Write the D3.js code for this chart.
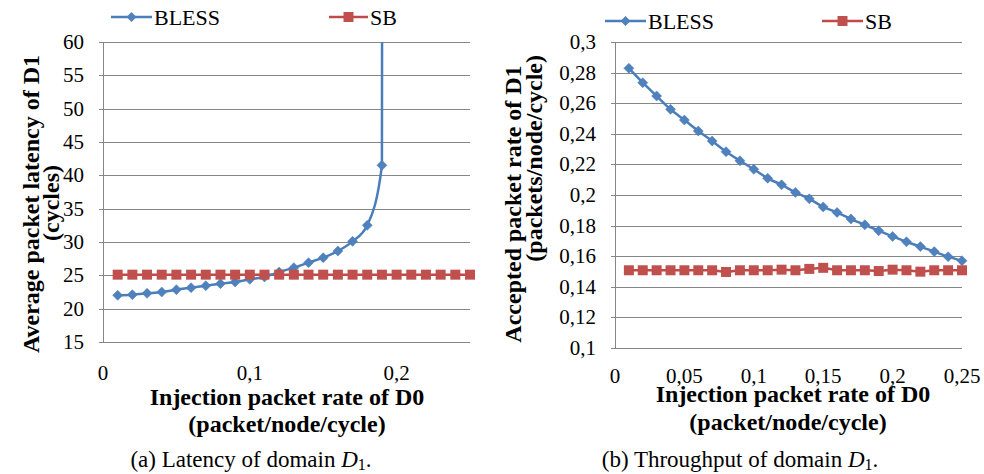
<!DOCTYPE html>
<html>
<head>
<meta charset="utf-8">
<script src="https://cdn.jsdelivr.net/npm/d3@7"></script>
</head>
<body style="margin:0">
<div id="panel"></div>
<script>
// injection rate of D0 (x values)
let injRate = [0.01, 0.02, 0.03, 0.04, 0.05, 0.06, 0.07, 0.08, 0.09, 0.10,
    0.11, 0.12, 0.13, 0.14, 0.15, 0.16, 0.17, 0.18, 0.19, 0.20,
    0.21, 0.22, 0.23, 0.24, 0.25]

// (a) latency of D1; BLESS saturates after 0.19 (last value is off the chart)
let latBless = [22.0, 22.1, 22.3, 22.5, 22.85, 23.15, 23.45, 23.75, 24.0, 24.4,
    24.75, 25.5, 26.15, 26.9, 27.65, 28.65, 30.1, 32.5, 41.5, 2000]
let latSB = [25.1, 25.1, 25.1, 25.1, 25.1, 25.1, 25.1, 25.1, 25.1, 25.1,
    25.1, 25.1, 25.1, 25.1, 25.1, 25.1, 25.1, 25.1, 25.1, 25.1,
    25.1, 25.1, 25.1, 25.1, 25.1]

// (b) accepted packet rate of D1
let thrBless = [0.2828, 0.2734, 0.2647, 0.2560, 0.2490, 0.2418, 0.2353, 0.2283, 0.2224, 0.2168,
    0.2109, 0.2067, 0.2017, 0.1975, 0.1922, 0.1886, 0.1843, 0.1805, 0.1767, 0.1729,
    0.1694, 0.1663, 0.1630, 0.1597, 0.1570]
let thrSB = [0.1508, 0.1508, 0.1508, 0.1508, 0.1508, 0.1508, 0.1508, 0.1497, 0.1508, 0.1508,
    0.1508, 0.1512, 0.1508, 0.1517, 0.1524, 0.1508, 0.1508, 0.1508, 0.1503, 0.1512,
    0.1508, 0.1499, 0.1508, 0.1508, 0.1508]

let latTicksY = [15, 20, 25, 30, 35, 40, 45, 50, 55, 60]
let latTicksX = [0, 0.1, 0.2]
let thrTicksY = [0.1, 0.12, 0.14, 0.16, 0.18, 0.2, 0.22, 0.24, 0.26, 0.28, 0.3]
let thrTicksX = [0, 0.05, 0.1, 0.15, 0.2, 0.25]

let seriesNames = ['BLESS', 'SB']

const BLUE_LINE = '#4A7EBB', BLUE = '#4F81BD'
const RED_LINE = '#BE4B48', RED = '#C0504D'
const GRID = '#868686'

let svg = d3.select('#panel').append('svg')
    .attr('width', 984)
    .attr('height', 474)
    .style('display', 'block')

let comma = d => String(d).replace('.', ',')

function label(parent, size, weight) {
    return parent.append('text')
        .style('font-family', '"Liberation Serif"')
        .style('font-size', size + 'px')
        .style('font-weight', weight || 'normal')
}

function drawChart(cfg) {
    let g = svg.append('g')

    let x = d3.scaleLinear().domain([0, 0.25]).range([cfg.left, cfg.right])
    let y = d3.scaleLinear().domain(cfg.yDomain).range([cfg.bottom, cfg.top])

    g.append('clipPath').attr('id', cfg.id + '_clip')
        .append('rect')
        .attr('x', cfg.left - 10).attr('y', cfg.top)
        .attr('width', cfg.right - cfg.left + 20).attr('height', cfg.bottom - cfg.top)

    // horizontal grid + small outer ticks
    g.selectAll('.grid')
        .data(cfg.yTicks)
        .enter()
        .append('line')
        .attr('x1', cfg.left - 4)
        .attr('x2', cfg.right)
        .attr('y1', d => Math.round(y(d)) + 0.5)
        .attr('y2', d => Math.round(y(d)) + 0.5)
        .attr('stroke', GRID)
    g.append('line')
        .attr('x1', cfg.left + 0.5).attr('x2', cfg.left + 0.5)
        .attr('y1', cfg.top).attr('y2', cfg.bottom)
        .attr('stroke', GRID)

    cfg.yTicks.forEach(d => {
        label(g, 21)
            .attr('x', cfg.yLabelX)
            .attr('y', y(d) + 7)
            .attr('text-anchor', 'end')
            .text(comma(d))
    })
    cfg.xTicks.forEach(d => {
        label(g, 21)
            .attr('x', x(d))
            .attr('y', cfg.xLabelY)
            .attr('text-anchor', 'middle')
            .text(comma(d))
    })

    // axis titles
    cfg.xTitle.forEach(t => {
        label(g, 24, 'bold')
            .attr('x', t.x).attr('y', t.y)
            .attr('text-anchor', 'middle')
            .text(t.text)
    })
    cfg.yTitle.forEach(t => {
        label(g, 24, 'bold')
            .attr('transform', `translate(${t.x}, ${t.y}) rotate(-90)`)
            .attr('text-anchor', t.anchor)
            .text(t.text)
    })

    let plot = g.append('g').attr('clip-path', `url(#${cfg.id}_clip)`)

    let pts = (xs, ys) => ys.map((v, i) => [xs[i], v])
    let blessData = pts(injRate, cfg.bless)
    let sbData = pts(injRate, cfg.sb)

    let line = d3.line().x(d => x(d[0])).y(d => y(d[1]))

    plot.append('path')
        .datum(sbData)
        .attr('d', line.curve(d3.curveLinear))
        .attr('fill', 'none')
        .attr('stroke', RED_LINE)
        .attr('stroke-width', 2.5)
    plot.append('path')
        .datum(blessData)
        .attr('d', line.curve(d3.curveMonotoneX))
        .attr('fill', 'none')
        .attr('stroke', BLUE_LINE)
        .attr('stroke-width', 2.5)

    let inView = d => d[1] >= cfg.yDomain[0] && d[1] <= cfg.yDomain[1]

    plot.selectAll('.bless')
        .data(blessData.filter(inView))
        .enter()
        .append('path')
        .attr('d', d3.symbol(d3.symbolSquare, 50))
        .attr('transform', d => `translate(${x(d[0])}, ${y(d[1])}) rotate(45)`)
        .attr('fill', BLUE)
        .attr('stroke', BLUE_LINE)
        .attr('stroke-width', 0.5)
    plot.selectAll('.sb')
        .data(sbData.filter(inView))
        .enter()
        .append('path')
        .attr('d', d3.symbol(d3.symbolSquare, 100))
        .attr('transform', d => `translate(${x(d[0])}, ${y(d[1])})`)
        .attr('fill', RED)

    // legend
    cfg.legend.forEach((l, i) => {
        g.append('line')
            .attr('x1', l.x1).attr('x2', l.x2)
            .attr('y1', l.y).attr('y2', l.y)
            .attr('stroke', i == 0 ? BLUE_LINE : RED_LINE)
            .attr('stroke-width', 2.5)
        g.append('path')
            .attr('d', d3.symbol(d3.symbolSquare, i == 0 ? 50 : 100))
            .attr('transform', `translate(${(l.x1 + l.x2) / 2}, ${l.y}) rotate(${i == 0 ? 45 : 0})`)
            .attr('fill', i == 0 ? BLUE : RED)
        label(g, 22)
            .attr('x', l.x2 + 2)
            .attr('y', l.y + 8)
            .text(seriesNames[i])
    })

    // caption
    let cap = label(g, 23)
        .attr('x', cfg.caption.x).attr('y', 467)
        .attr('text-anchor', 'middle')
    cap.append('tspan').text(cfg.caption.text + ' ')
    cap.append('tspan').style('font-style', 'italic').text('D')
    cap.append('tspan').style('font-size', '16px').attr('dy', 3).text('1')
    cap.append('tspan').attr('dy', -3).text('.')
}

drawChart({
    id: 'lat',
    left: 103, right: 470, top: 42, bottom: 342,
    yDomain: [15, 60],
    yTicks: latTicksY, xTicks: latTicksX,
    yLabelX: 84, xLabelY: 380,
    bless: latBless, sb: latSB,
    xTitle: [
        { text: 'Injection packet rate of D0', x: 287, y: 405 },
        { text: '(packet/node/cycle)', x: 287, y: 432 }
    ],
    yTitle: [
        { text: 'Average packet latency of D1', x: 39, y: 204, anchor: 'middle' },
        { text: '(cycles)', x: 59, y: 203, anchor: 'middle' }
    ],
    legend: [
        { x1: 111, x2: 152, y: 17 },
        { x1: 329, x2: 368, y: 17 }
    ],
    caption: { text: '(a) Latency of domain', x: 251 }
})

drawChart({
    id: 'thr',
    left: 615, right: 962, top: 42, bottom: 348,
    yDomain: [0.1, 0.3],
    yTicks: thrTicksY, xTicks: thrTicksX,
    yLabelX: 596, xLabelY: 383,
    bless: thrBless, sb: thrSB,
    xTitle: [
        { text: 'Injection packet rate of D0', x: 793, y: 402 },
        { text: '(packet/node/cycle)', x: 788, y: 430 }
    ],
    yTitle: [
        { text: 'Accepted packet rate of  D1', x: 521, y: 204, anchor: 'middle' },
        { text: '(packets/node/cycle)', x: 542, y: 55, anchor: 'end' }
    ],
    legend: [
        { x1: 605, x2: 646, y: 21 },
        { x1: 822, x2: 863, y: 21 }
    ],
    caption: { text: '(b) Throughput of domain', x: 740 }
})
</script>
</body>
</html>
